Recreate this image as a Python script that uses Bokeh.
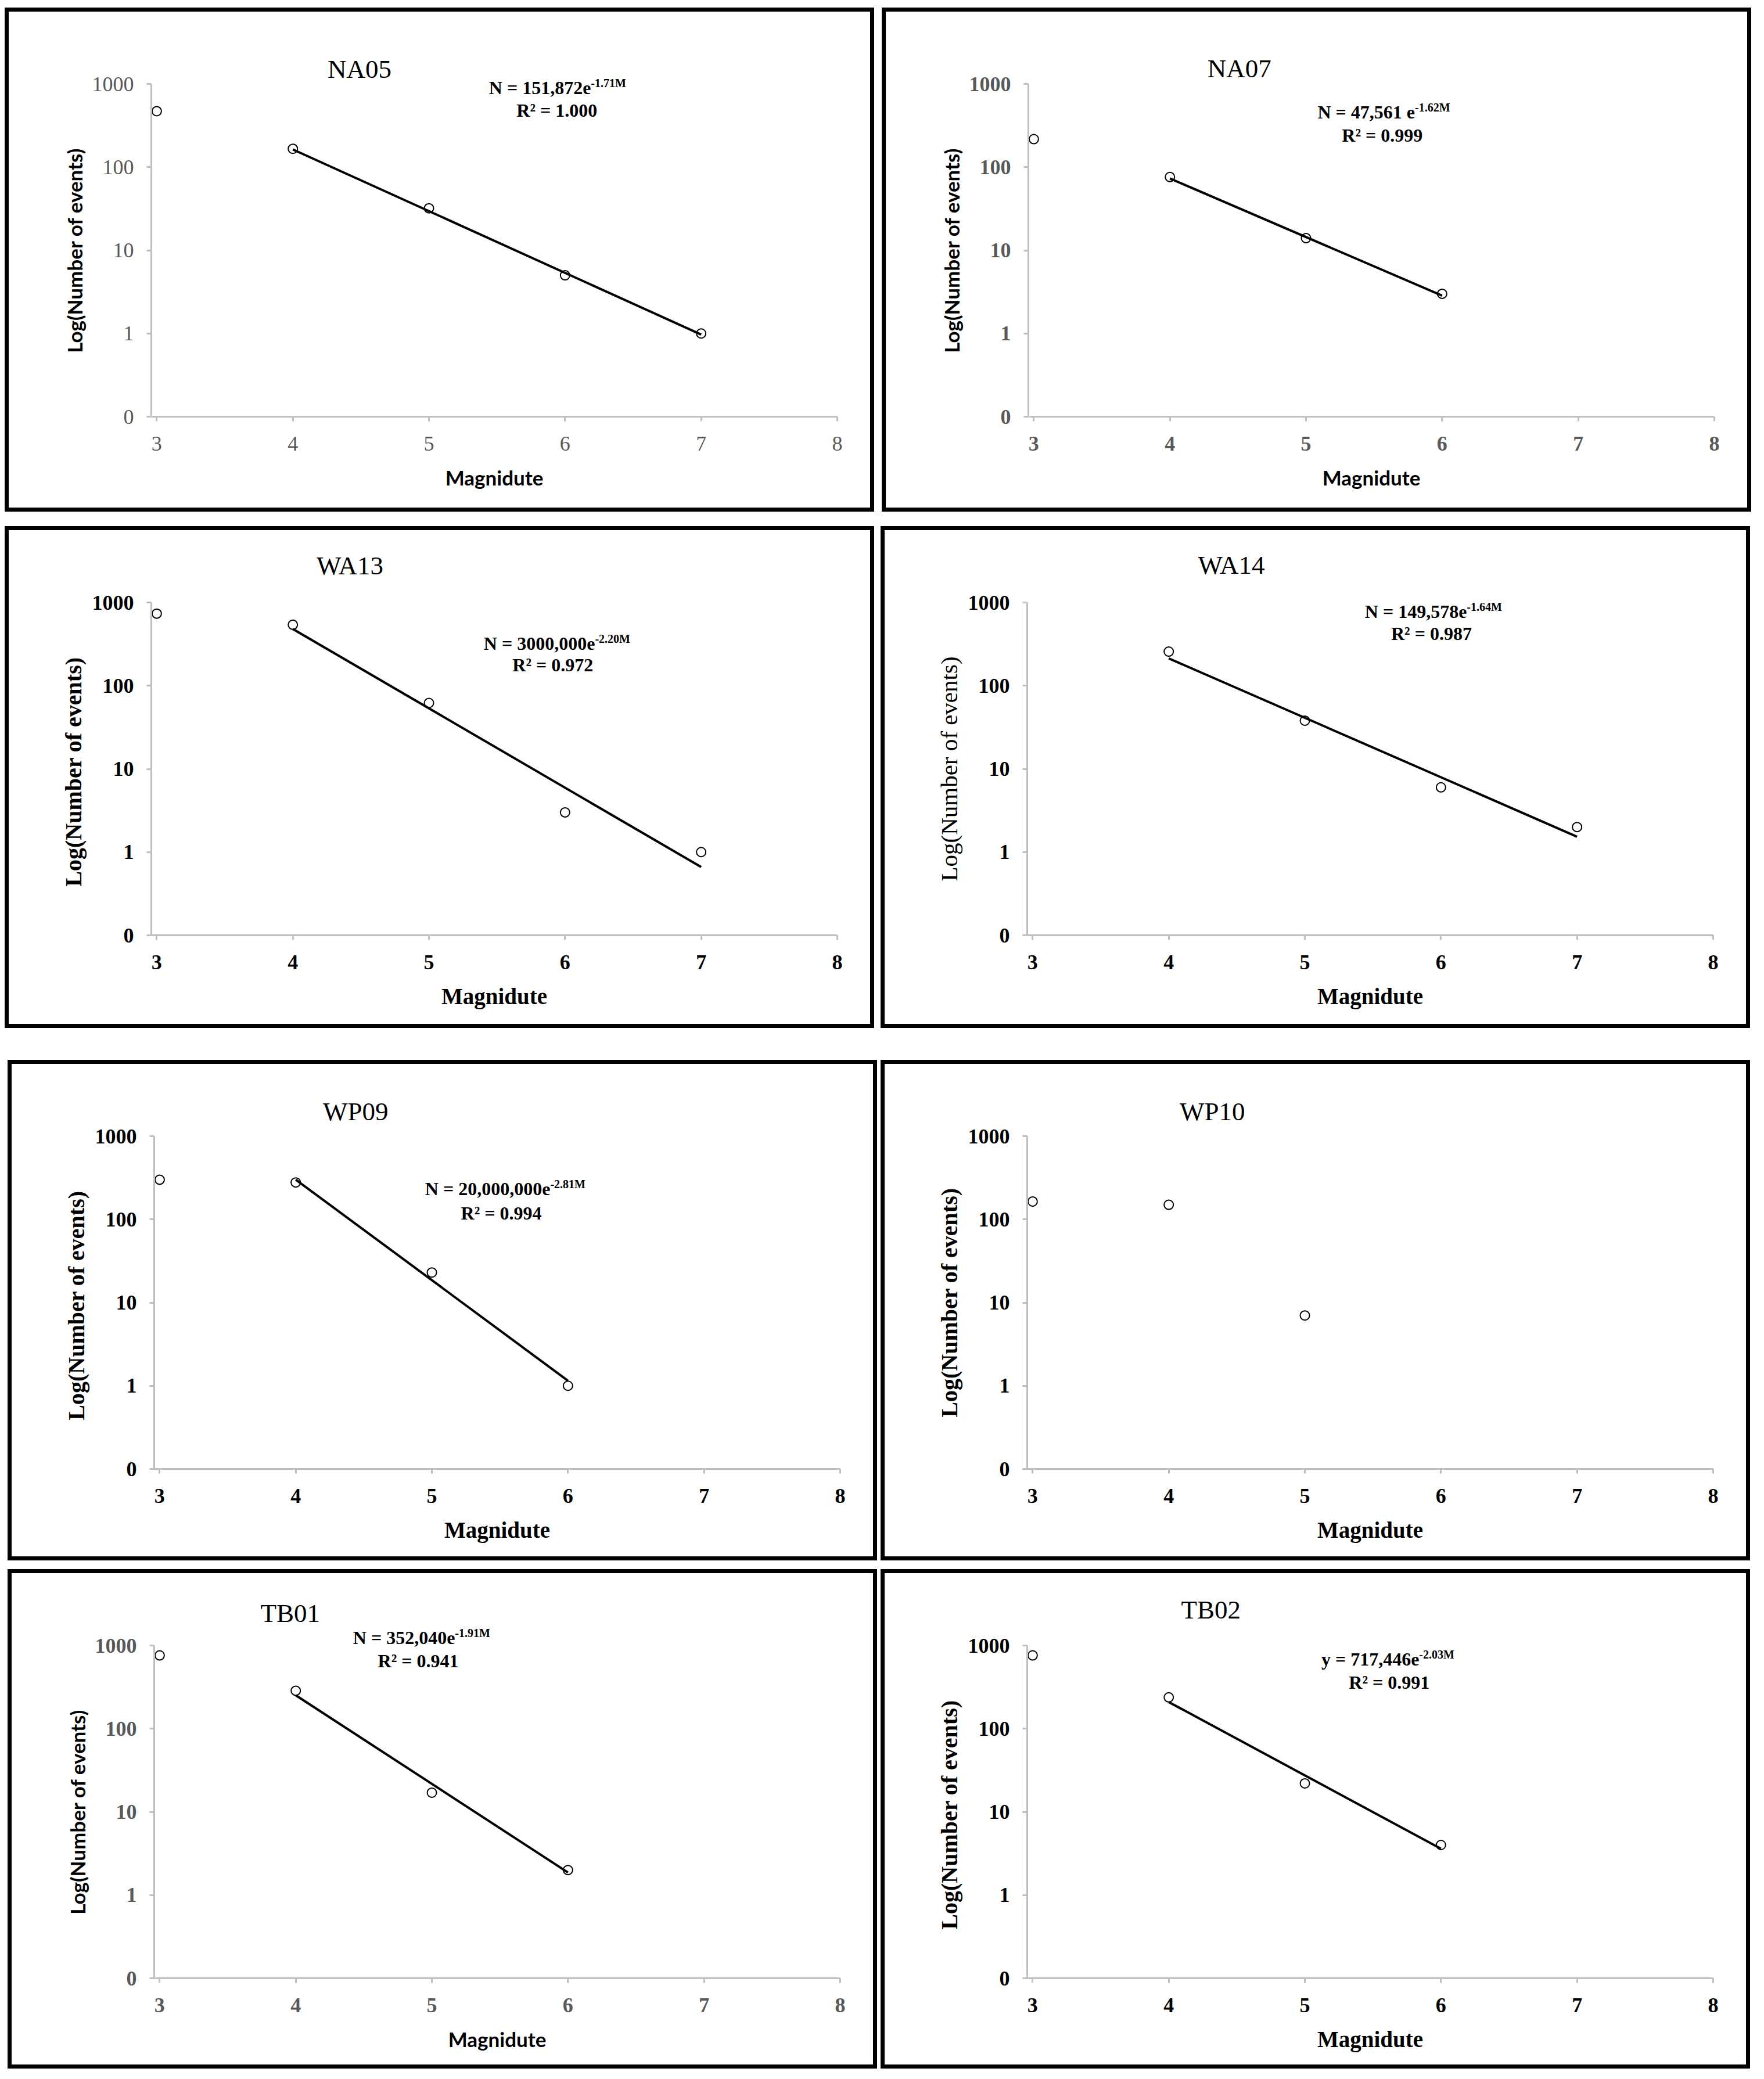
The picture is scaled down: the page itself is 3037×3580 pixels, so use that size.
from bokeh.plotting import figure
from bokeh.layouts import column, row
from bokeh.models import Range1d, FixedTicker, Label, Spacer
from bokeh.embed import file_html
from bokeh.resources import INLINE

# ---------------- data ----------------
stations = ["NA05", "NA07", "WA13", "WA14", "WP09", "WP10", "TB01", "TB02"]

mag_NA05 = [3, 4, 5, 6, 7]
events_NA05 = [470, 166, 32, 5, 1]
mag_NA07 = [3, 4, 5, 6]
events_NA07 = [217, 76, 14, 3]
mag_WA13 = [3, 4, 5, 6, 7]
events_WA13 = [735, 540, 62, 3, 1]
mag_WA14 = [4, 5, 6, 7]
events_WA14 = [257, 38, 6, 2]
mag_WP09 = [3, 4, 5, 6]
events_WP09 = [300, 278, 23, 1]
mag_WP10 = [3, 4, 5]
events_WP10 = [164, 150, 7]
mag_TB01 = [3, 4, 5, 6]
events_TB01 = [760, 286, 17, 2]
mag_TB02 = [3, 4, 5, 6]
events_TB02 = [760, 238, 22, 4]

# fitted trend lines (end points as drawn)
trend_mag_NA05 = [4, 7]
trend_events_NA05 = [163, 0.97]
trend_mag_NA07 = [4, 6]
trend_events_NA07 = [73, 2.85]
trend_mag_WA13 = [4, 7]
trend_events_WA13 = [480, 0.66]
trend_mag_WA14 = [4, 7]
trend_events_WA14 = [213, 1.53]
trend_mag_WP09 = [4, 6]
trend_events_WP09 = [300, 1.15]
trend_mag_WP10 = []
trend_events_WP10 = []
trend_mag_TB01 = [4, 6]
trend_events_TB01 = [252, 1.87]
trend_mag_TB02 = [4, 6]
trend_events_TB02 = [209, 3.6]

eq_base = ["N = 151,872e", "N = 47,561 e", "N = 3000,000e", "N = 149,578e",
           "N = 20,000,000e", None, "N = 352,040e", "y = 717,446e"]
eq_exp = ["-1.71M", "-1.62M", "-2.20M", "-1.64M", "-2.81M", None, "-1.91M", "-2.03M"]
eq_r2 = ["R\u00b2 = 1.000", "R\u00b2 = 0.999", "R\u00b2 = 0.972", "R\u00b2 = 0.987",
         "R\u00b2 = 0.994", None, "R\u00b2 = 0.941", "R\u00b2 = 0.991"]

x_ticks = [3, 4, 5, 6, 7, 8]
y_tick_values = [0.1, 1, 10, 100, 1000]
y_tick_labels = ["0", "1", "10", "100", "1000"]
x_label = "Magnidute"
y_labels = ["Log(Number of events)", "Log(Number of events)", "Log(Number  of events)",
            "Log(Number of events)", "Log(Number  of events)", "Log(Number of events)",
            "Log(Number of events)", "Log(Number  of events)"]

series = {
    "NA05": (mag_NA05, events_NA05, trend_mag_NA05, trend_events_NA05),
    "NA07": (mag_NA07, events_NA07, trend_mag_NA07, trend_events_NA07),
    "WA13": (mag_WA13, events_WA13, trend_mag_WA13, trend_events_WA13),
    "WA14": (mag_WA14, events_WA14, trend_mag_WA14, trend_events_WA14),
    "WP09": (mag_WP09, events_WP09, trend_mag_WP09, trend_events_WP09),
    "WP10": (mag_WP10, events_WP10, trend_mag_WP10, trend_events_WP10),
    "TB01": (mag_TB01, events_TB01, trend_mag_TB01, trend_events_TB01),
    "TB02": (mag_TB02, events_TB02, trend_mag_TB02, trend_events_TB02),
}

# ---------------- styling / placement ----------------
SERIF = "Liberation Serif"
SANS = "Lato"

# (title x, title y, eq line1 y, exponent junction x, eq line2 x, eq line2 y)
placement = {
    "NA05": (4.49, 1500, 896, 6.19, 5.94, 481),
    "NA07": (4.51, 1520, 461, 5.80, 5.56, 242),
    "WA13": (4.42, 2760, 324, 6.22, 5.91, 179),
    "WA14": (4.46, 2810, 783, 6.19, 5.93, 425),
    "WP09": (4.44, 1970, 233, 5.87, 5.51, 118),
    "WP10": (4.32, 1970, None, None, None, None),
    "TB01": (3.96, 2430, 1240, 5.17, 4.90, 648),
    "TB02": (4.31, 2670, 683, 5.84, 5.62, 361),
}

# (tick font weight, tick color, axis-label font, y label weight, y label size, x label size)
look = {
    "NA05": ("normal", "#595959", SANS, "bold", "35px", "35px"),
    "NA07": ("bold", "#595959", SANS, "bold", "35px", "35px"),
    "WA13": ("bold", "black", SERIF, "bold", "40px", "39px"),
    "WA14": ("bold", "black", SERIF, "normal", "41px", "39px"),
    "WP09": ("bold", "black", SERIF, "bold", "40px", "39px"),
    "WP10": ("bold", "black", SERIF, "bold", "40px", "39px"),
    "TB01": ("bold", "#595959", SANS, "bold", "35px", "35px"),
    "TB02": ("bold", "black", SERIF, "bold", "40px", "39px"),
}

FRAME_W = 1181
FRAME_H = 573
B_LEFT = 252
B_RIGHT = 64
B_TOP = 131
AXIS_GRAY = "#BFBFBF"


def make_panel(idx, height):
    name = stations[idx]
    mags, events, tm, te = series[name]
    tw, tc, lab_font, ylw, yls, xls = look[name]
    p = figure(title=None, toolbar_location=None, output_backend="svg",
               x_range=Range1d(2.96, 8), y_range=Range1d(y_tick_values[0], y_tick_values[-1]),
               y_axis_type="log",
               frame_width=FRAME_W, frame_height=FRAME_H,
               min_border_left=B_LEFT, min_border_right=B_RIGHT,
               min_border_top=B_TOP, min_border_bottom=height - B_TOP - FRAME_H)
    p.xgrid.visible = False
    p.ygrid.visible = False
    p.outline_line_color = None
    p.background_fill_color = None
    p.border_fill_color = None
    p.styles = {"box-shadow": "inset 0 0 0 7px black",
                "outline": "7px solid black", "outline-offset": "-7px"}

    p.xaxis.ticker = FixedTicker(ticks=x_ticks)
    p.yaxis.ticker = FixedTicker(ticks=y_tick_values)
    p.yaxis.major_label_overrides = dict(zip(y_tick_values, y_tick_labels))

    for ax in (p.xaxis, p.yaxis):
        ax.axis_line_color = AXIS_GRAY
        ax.axis_line_width = 3
        ax.major_tick_line_color = AXIS_GRAY
        ax.major_tick_line_width = 3
        ax.major_tick_out = 8
        ax.major_tick_in = 0
        ax.minor_tick_out = 0
        ax.minor_tick_in = 0
        ax.major_label_text_font = SERIF
        ax.major_label_text_font_size = "36px"
        ax.major_label_text_font_style = tw
        ax.major_label_text_color = tc
        ax.axis_label_text_font = lab_font
        ax.axis_label_text_color = "black"

    p.xaxis.major_label_standoff = 26
    p.yaxis.major_label_standoff = 22
    p.xaxis.axis_label = x_label
    p.xaxis.axis_label_text_font_style = "bold"
    p.xaxis.axis_label_text_font_size = xls
    p.xaxis.axis_label_standoff = 22
    p.yaxis.axis_label = y_labels[idx]
    p.yaxis.axis_label_text_font_style = ylw
    p.yaxis.axis_label_text_font_size = yls
    p.yaxis.axis_label_standoff = 7

    p.scatter(mags, events, marker="circle", size=16, line_color="black",
              line_width=2, fill_color="white")
    if tm:
        p.line(tm, te, line_color="black", line_width=4)

    tx, ty, e1y, ejx, e2x, e2y = placement[name]
    # texts that reach above the plot frame live in the top side panel (not clipped)
    p.add_layout(Label(x=tx, y=ty, text=name, text_align="center", text_baseline="middle",
                       text_font=SERIF, text_font_size="45px", text_color="black"), "above")
    if eq_base[idx] is not None:
        p.add_layout(Label(x=ejx, y=e1y, text=eq_base[idx], text_align="right",
                           text_baseline="middle", text_font=SERIF, text_font_size="32px",
                           text_font_style="bold", text_color="black"), "above")
        p.add_layout(Label(x=ejx, y=e1y, y_offset=8, text=eq_exp[idx], text_align="left",
                           text_baseline="middle", text_font=SERIF, text_font_size="20px",
                           text_font_style="bold", text_color="black"), "above")
        p.add_layout(Label(x=e2x, y=e2y, text=eq_r2[idx], text_align="center",
                           text_baseline="middle", text_font=SERIF, text_font_size="32px",
                           text_font_style="bold", text_color="black"))
    return p


row_heights = [868, 864, 862, 860]
panels = [make_panel(i, row_heights[i // 2]) for i in range(8)]

layout = column(
    Spacer(height=13),
    row(Spacer(width=8), panels[0], Spacer(width=13), panels[1]),
    Spacer(height=25),
    row(Spacer(width=8), panels[2], Spacer(width=11), panels[3]),
    Spacer(height=55),
    row(Spacer(width=13), panels[4], Spacer(width=6), panels[5]),
    Spacer(height=15),
    row(Spacer(width=13), panels[6], Spacer(width=6), panels[7]),
)

open("out.html", "w").write(file_html(layout, INLINE))
